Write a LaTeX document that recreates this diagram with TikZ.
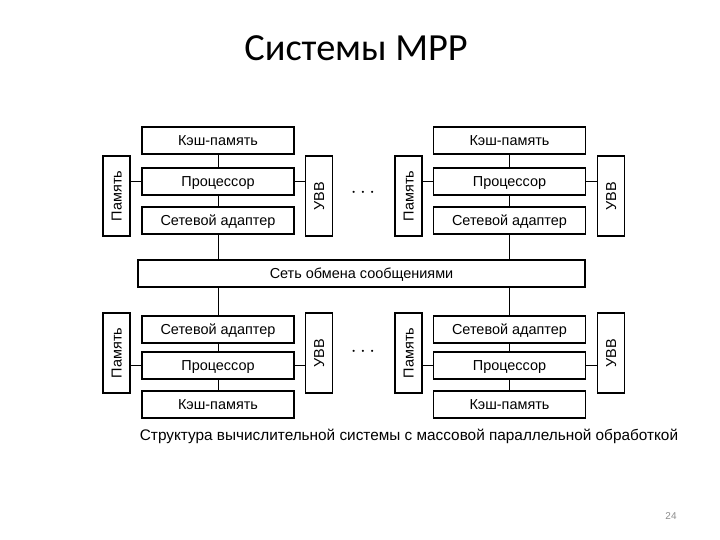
\documentclass[tikz,border=0pt]{standalone}
\usepackage{fontspec}
\setmainfont{Liberation Sans}
\newfontfamily\titlefont{Carlito}
\begin{document}
\begin{tikzpicture}[x=1bp,y=-1bp,
  blk/.style={draw,line width=1.6pt,minimum width=152bp,minimum height=27bp,inner sep=0pt,text height=10.4bp,text depth=0bp,font=\fontsize{14.5}{16}\selectfont},
  side/.style={draw,line width=1.6pt,minimum width=27bp,minimum height=80bp,inner sep=0pt},
  sidetxt/.style={rotate=90,inner sep=0pt,text height=10.4bp,text depth=0bp,font=\fontsize{14.5}{16}\selectfont},
  conn/.style={line width=1pt}]
\useasboundingbox (0,0) rectangle (720,540);
\node[font=\titlefont\fontsize{38.5}{42}\selectfont] (title) at (356,48) {Системы MPP};
% network
\node[blk,minimum width=447bp] (net) at (361.5,273.5) {Сеть обмена сообщениями};
% top-left group
\node[blk] (cTL) at (218,140.5) {Кэш-память};
\node[blk] (pTL) at (218,181.5) {Процессор};
\node[blk] (aTL) at (218,220.5) {Сетевой адаптер};
\node[side] (mTL) at (116.5,196) {};
\node[sidetxt] at (mTL) {Память};
\node[side] (iTL) at (319,196) {};
\node[sidetxt] at (iTL) {УВВ};
% top-right group
\node[blk] (cTR) at (509.5,140.5) {Кэш-память};
\node[blk] (pTR) at (509.5,181.5) {Процессор};
\node[blk] (aTR) at (509.5,220.5) {Сетевой адаптер};
\node[side] (mTR) at (408.5,196) {};
\node[sidetxt] at (mTR) {Память};
\node[side] (iTR) at (611,196) {};
\node[sidetxt] at (iTR) {УВВ};
% bottom-left group
\node[blk] (aBL) at (218,329.5) {Сетевой адаптер};
\node[blk] (pBL) at (218,365.5) {Процессор};
\node[blk] (cBL) at (218,404.5) {Кэш-память};
\node[side] (mBL) at (116.5,353) {};
\node[sidetxt] at (mBL) {Память};
\node[side] (iBL) at (319,353) {};
\node[sidetxt] at (iBL) {УВВ};
% bottom-right group
\node[blk] (aBR) at (509.5,329.5) {Сетевой адаптер};
\node[blk] (pBR) at (509.5,365.5) {Процессор};
\node[blk] (cBR) at (509.5,404.5) {Кэш-память};
\node[side] (mBR) at (408.5,353) {};
\node[sidetxt] at (mBR) {Память};
\node[side] (iBR) at (611,353) {};
\node[sidetxt] at (iBR) {УВВ};
% dots
\node[font=\fontsize{20}{22}\selectfont] (dT) at (363,193) {$\cdots$};
\node[font=\fontsize{20}{22}\selectfont] (dB) at (363,352) {$\cdots$};
% connectors
\foreach \g in {TL,TR}{
  \draw[conn] (c\g) -- (p\g);
  \draw[conn] (p\g) -- (a\g);
  \draw[conn] (m\g.east |- p\g) -- (p\g.west);
  \draw[conn] (p\g.east) -- (i\g.west |- p\g);
}
\foreach \g in {BL,BR}{
  \draw[conn] (a\g) -- (p\g);
  \draw[conn] (p\g) -- (c\g);
  \draw[conn] (m\g.east |- p\g) -- (p\g.west);
  \draw[conn] (p\g.east) -- (i\g.west |- p\g);
}
\draw[conn] (aTL.south) -- (aTL.south |- net.north);
\draw[conn] (aTR.south) -- (aTR.south |- net.north);
\draw[conn] (aBL.north |- net.south) -- (aBL.north);
\draw[conn] (aBR.north |- net.south) -- (aBR.north);
% caption
\node[font=\fontsize{15.4}{17}\selectfont] (cap) at (409,436) {Структура вычислительной системы с массовой параллельной обработкой};
\node[font=\fontsize{10}{12}\selectfont,text=black!45] (pg) at (671,516) {24};
\end{tikzpicture}
\end{document}
